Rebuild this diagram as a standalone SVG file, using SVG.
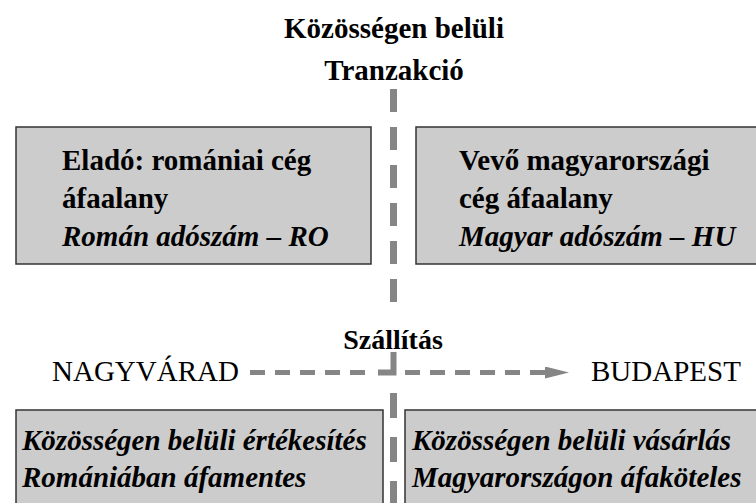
<svg xmlns="http://www.w3.org/2000/svg" width="756" height="503" viewBox="0 0 756 503">
<defs>
<style>
.t{font-family:"Liberation Serif","Times New Roman","DejaVu Serif",serif;fill:#000}
.b{font-weight:bold}
.i{font-style:italic}
.box{fill:#cccccc;stroke:#333333;stroke-width:1.5}
.dv{stroke:#858585;stroke-width:7;fill:none}
.dh{stroke:#858585;stroke-width:5;fill:none}
</style>
<marker id="ah" markerWidth="24" markerHeight="12" refX="0" refY="6" orient="auto" markerUnits="userSpaceOnUse">
<path d="M0,0 L24,6 L0,12 Z" fill="#858585"/>
</marker>
</defs>
<rect width="756" height="503" fill="#ffffff"/>
<g id="title">
<text class="t b" x="394" y="38" font-size="29" text-anchor="middle">Közösségen belüli</text>
<text class="t b" x="394" y="80" font-size="29" text-anchor="middle">Tranzakció</text>
</g>
<g id="connectors">
<line class="dv" x1="393.5" y1="89" x2="393.5" y2="304" stroke-dasharray="23 15"/>
<path class="dh" d="M393.5,352 L393.5,372.5 L378,372.5" style="stroke-width:6"/>
<line class="dh" x1="250" y1="372.5" x2="365" y2="372.5" stroke-dasharray="15 10"/>
<line class="dh" x1="405" y1="372.5" x2="530" y2="372.5" stroke-dasharray="15 10"/>
<line class="dh" x1="530" y1="372.5" x2="545" y2="372.5" marker-end="url(#ah)"/>
<line class="dv" x1="393.5" y1="393" x2="393.5" y2="503" stroke-dasharray="25 19"/>
</g>
<g id="seller">
<rect class="box" x="16" y="127" width="355" height="137"/>
<text class="t b" x="62" y="170" font-size="29">Eladó: romániai cég</text>
<text class="t b" x="62" y="208" font-size="29">áfaalany</text>
<text class="t b i" x="62" y="246" font-size="29">Román adószám – RO</text>
</g>
<g id="buyer">
<rect class="box" x="416" y="127" width="345" height="137"/>
<text class="t b" x="459" y="170" font-size="29">Vevő magyarországi</text>
<text class="t b" x="459" y="208" font-size="29">cég áfaalany</text>
<text class="t b i" x="459" y="246" font-size="29">Magyar adószám – HU</text>
</g>
<g id="delivery">
<text class="t b" x="393" y="349" font-size="28" text-anchor="middle">Szállítás</text>
</g>
<g id="from">
<text class="t" x="52" y="381" font-size="29">NAGYVÁRAD</text>
</g>
<g id="to">
<text class="t" x="591" y="381" font-size="29">BUDAPEST</text>
</g>
<g id="sale">
<rect class="box" x="16" y="410" width="367" height="100"/>
<text class="t b i" x="22" y="450" font-size="29">Közösségen belüli értékesítés</text>
<text class="t b i" x="22" y="487" font-size="29">Romániában áfamentes</text>
</g>
<g id="purchase">
<rect class="box" x="405" y="410" width="356" height="100"/>
<text class="t b i" x="412" y="450" font-size="29">Közösségen belüli vásárlás</text>
<text class="t b i" x="412" y="487" font-size="29">Magyarországon áfaköteles</text>
</g>
</svg>
